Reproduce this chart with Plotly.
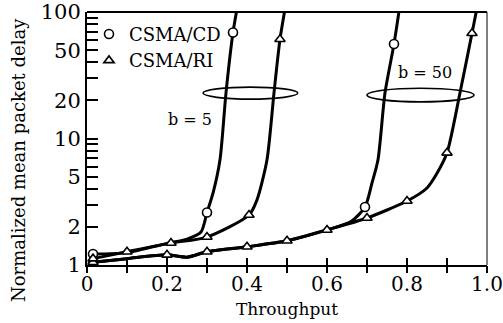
import plotly.graph_objects as go

# ---- data ----
cd5_x = [0.015, 0.1, 0.2, 0.25, 0.285, 0.30, 0.315, 0.3325, 0.3475, 0.365, 0.38]
cd5_y = [1.22, 1.25, 1.48, 1.6, 1.82, 2.6, 3.7, 6.8, 23, 69, 130]
cd5_marked = [0, 5, 9]

ri5_x = [0.015, 0.1, 0.21, 0.30, 0.405, 0.425, 0.45, 0.4675, 0.4825, 0.50]
ri5_y = [1.12, 1.27, 1.49, 1.66, 2.48, 3.27, 6.8, 23, 61, 130]
ri5_marked = [0, 1, 2, 3, 4, 8]

cd50_x = [0.015, 0.1, 0.2, 0.25, 0.3, 0.4, 0.5, 0.6, 0.66, 0.695, 0.7125, 0.7275, 0.745, 0.7675, 0.785]
cd50_y = [1.05, 1.12, 1.2, 1.15, 1.27, 1.39, 1.55, 1.89, 2.2, 2.87, 4.45, 6.8, 23, 56, 130]
cd50_marked = [0, 9, 13]

ri50_x = [0.015, 0.1, 0.2, 0.25, 0.3, 0.4, 0.5, 0.6, 0.7, 0.8, 0.85, 0.875, 0.9, 0.9325, 0.9625, 0.98]
ri50_y = [1.05, 1.12, 1.2, 1.15, 1.27, 1.39, 1.55, 1.89, 2.35, 3.2, 4.06, 5.3, 7.7, 23, 68, 130]
ri50_marked = [0, 2, 4, 5, 6, 7, 8, 9, 12, 14]

y_tickvals = [1, 2, 3, 4, 5, 6, 7, 8, 9, 10, 20, 30, 40, 50, 60, 70, 80, 90, 100]
y_labelled = {1: "1", 2: "2", 5: "5", 10: "10", 20: "20", 50: "50", 100: "100"}
x_tickvals = [0, 0.1, 0.2, 0.3, 0.4, 0.5, 0.6, 0.7, 0.8, 0.9, 1.0]
x_labelled = {0: "0", 0.2: "0.2", 0.4: "0.4", 0.6: "0.6", 0.8: "0.8", 1.0: "1.0"}

# group ellipses (x span, y span in data units)
ell5 = dict(x=(0.29, 0.527), y=(20.5, 25.5))
ell50 = dict(x=(0.70, 0.9675), y=(19.5, 25.0))

FONT = "DejaVu Serif"

fig = go.Figure()

def add_series(xs, ys, marked, symbol, name, legend):
    fig.add_trace(go.Scatter(x=xs, y=ys, mode="lines",
                             line=dict(color="black", width=3, shape="spline", smoothing=0.7),
                             showlegend=False, hoverinfo="skip"))
    fig.add_trace(go.Scatter(x=[xs[i] for i in marked], y=[ys[i] for i in marked],
                             mode="markers", name=name, showlegend=legend,
                             marker=dict(symbol=symbol, size=9, color="white",
                                         line=dict(color="black", width=1.6))))

add_series(cd50_x, cd50_y, cd50_marked, "circle", "CSMA/CD", False)
add_series(ri50_x, ri50_y, ri50_marked, "triangle-up", "CSMA/RI", False)
add_series(cd5_x, cd5_y, cd5_marked, "circle", "CSMA/CD", True)
add_series(ri5_x, ri5_y, ri5_marked, "triangle-up", "CSMA/RI", True)

for e in (ell5, ell50):
    fig.add_shape(type="circle", xref="x", yref="y", x0=e["x"][0], x1=e["x"][1],
                  y0=e["y"][0], y1=e["y"][1],
                  line=dict(color="black", width=1.6), layer="below")

# frame: thin right border, thick top border
fig.add_shape(type="line", xref="x domain", yref="y domain", x0=1, x1=1, y0=0, y1=1,
              line=dict(color="black", width=1))
fig.add_shape(type="line", xref="x domain", yref="y domain", x0=0, x1=1, y0=1, y1=1,
              line=dict(color="black", width=2))

fig.add_annotation(x=0.2575, y=1.154, text="b = 5", showarrow=False,
                   font=dict(family=FONT, size=16, color="black"))
fig.add_annotation(x=0.845, y=1.526, text="b = 50", showarrow=False,
                   font=dict(family=FONT, size=16, color="black"))
# y-axis title (placed as rotated annotation, sitting slightly low as in the original)
fig.add_annotation(x=-0.1725, y=0.415, xref="paper", yref="paper",
                   text="Normalized mean packet delay", textangle=-90, showarrow=False,
                   xanchor="center", yanchor="middle",
                   font=dict(family=FONT, size=18, color="black"))

fig.update_layout(
    width=503, height=323,
    margin=dict(l=87, r=16, t=12, b=58, autoexpand=False),
    paper_bgcolor="white", plot_bgcolor="white",
    font=dict(family=FONT, color="black", size=18),
    legend=dict(x=0.005, y=0.985, xanchor="left", yanchor="top",
                bgcolor="rgba(0,0,0,0)", font=dict(family=FONT, size=18),
                itemwidth=30, tracegroupgap=0),
    xaxis=dict(range=[0, 1], tickvals=x_tickvals,
               ticktext=[x_labelled.get(round(v, 1), "") for v in x_tickvals],
               ticks="inside", ticklen=7, tickwidth=1.5, tickcolor="black",
               showline=True, linecolor="black", linewidth=2, mirror=False,
               showgrid=False, zeroline=False, automargin=False,
               ticklabeloverflow="allow",
               title=dict(text="Throughput", font=dict(size=17), standoff=8),
               tickfont=dict(size=20)),
    xaxis2=dict(range=[0, 1], overlaying="x", tickvals=x_tickvals, showticklabels=False,
                ticks="outside", ticklen=7, tickwidth=1.5, tickcolor="black",
                showline=False, showgrid=False, zeroline=False, side="bottom"),
    yaxis=dict(type="log", range=[-0.001, 2.001], tickvals=y_tickvals,
               ticktext=[y_labelled.get(v, "") for v in y_tickvals],
               ticks="inside", ticklen=11, tickwidth=1.5, tickcolor="black",
               showline=True, linecolor="black", linewidth=2, mirror=False,
               showgrid=False, zeroline=False, automargin=False,
               ticklabeloverflow="allow",
               tickfont=dict(size=21)),
)
# dummy trace to activate xaxis2 ticks
fig.add_trace(go.Scatter(x=[None], y=[None], xaxis="x2", showlegend=False, hoverinfo="skip"))

fig.write_html("out.html", config={"displayModeBar": False},
               post_script="document.body.style.margin='0';")
